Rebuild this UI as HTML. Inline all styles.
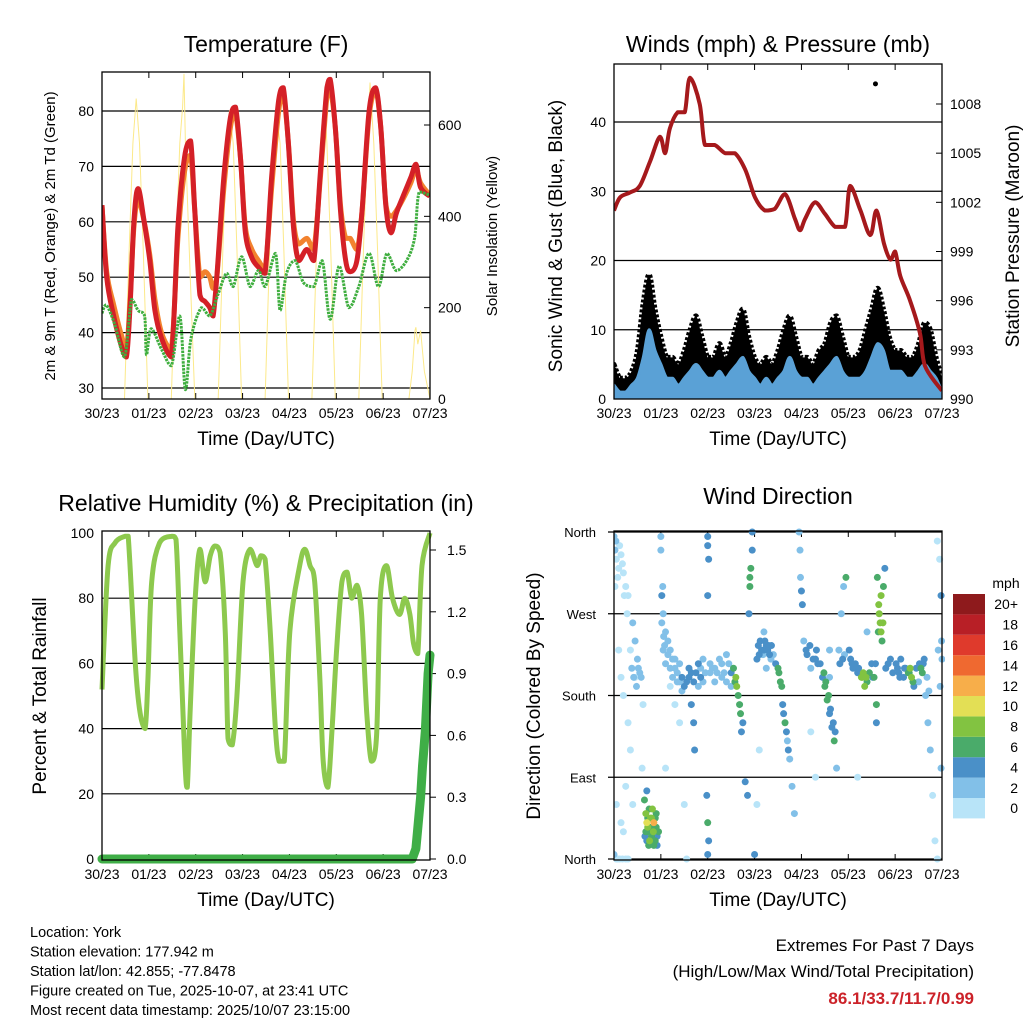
<!DOCTYPE html>
<html><head><meta charset="utf-8"><style>
html,body{margin:0;padding:0;background:#fff;}
svg{display:block;font-family:"Liberation Sans",sans-serif;}
</style></head><body>
<svg id="c" width="1024" height="1024" viewBox="0 0 1024 1024"></svg>
<script>
// ---------- DATA ----------
const dayLabels = ["30/23","01/23","02/23","03/23","04/23","05/23","06/23","07/23"];
const tempT = [0,0.1,0.25,0.4,0.52,0.6,0.68,0.77,0.9,1.02,1.13,1.27,1.48,1.62,1.76,1.89,1.98,2.09,2.2,2.3,2.37,2.45,2.6,2.74,2.85,2.96,3.06,3.2,3.34,3.48,3.62,3.77,3.87,3.98,4.09,4.2,4.37,4.52,4.66,4.8,4.87,4.98,5.09,5.2,5.3,5.44,5.55,5.7,5.84,5.95,6.06,6.17,6.28,6.42,6.59,6.7,6.8,7.0];
const temp2m = [63,50,43,38,35.6,45,60,66,60,53,44,39,35.6,59,71.6,74.6,62,46.8,45.6,44.5,43,50,68,78.8,80.7,71,58,53.5,51.8,50.7,68,82,84.2,73.8,58.8,53,55,53,69,84.2,85.7,77,62,53,51,53,62,80,84.2,77,62.6,58,61.5,64.5,68,70.4,66.2,64.6];
const temp9m = [63,51,45,40,37,46,59,64,60,54,46,40,37,57,69,72,62,50,51,50,48,50,66,77,79.5,71,59,55,53,51.5,66,80,83,74,60,56,57,55,68,82.5,84,77,63,57,57,55,62,79,83.5,77,63,61,62,64,67,69.5,67,64.8];
const tdT = [0,0.09,0.27,0.48,0.63,0.77,0.91,0.95,1.05,1.27,1.48,1.66,1.78,1.9,2.12,2.3,2.48,2.66,2.8,2.98,3.16,3.34,3.48,3.7,3.8,3.94,4.12,4.3,4.52,4.7,4.87,5.06,5.27,5.48,5.7,5.9,6.08,6.28,6.5,6.67,6.77,7.0];
const tdVals = [43.5,45,41.5,35.6,46,44,43,36,40.7,37,34,43,29.7,39,44.5,43,47,50.7,48.3,53.7,48.3,51.2,48.3,54.3,44,50.7,53,49,48.3,53,42.4,52,44.5,48.3,54.3,48.3,54.3,51.2,53,57,65.4,64.8];
const solarT = [0,0.48,0.58,0.66,0.73,0.8,0.88,0.98,1.48,1.58,1.66,1.72,1.75,1.78,1.86,1.98,2.48,2.58,2.66,2.72,2.8,2.88,2.98,3.48,3.58,3.66,3.72,3.8,3.88,3.98,4.48,4.58,4.66,4.74,4.8,4.88,4.98,5.48,5.58,5.66,5.72,5.8,5.88,5.98,6.55,6.62,6.68,6.7,6.74,6.8,6.88,7.0];
const solarV = [0,0,330,560,658,560,330,0,0,330,560,640,712,560,330,0,0,330,560,632,560,330,0,0,330,560,628,560,330,0,0,330,560,659,560,330,0,0,330,560,693,560,330,0,0,60,150,157,120,150,60,0];
const windT = [0,0.125,0.25,0.375,0.5,0.625,0.75,0.875,1,1.125,1.25,1.375,1.5,1.625,1.75,1.875,2,2.125,2.25,2.375,2.5,2.625,2.75,2.875,3,3.125,3.25,3.375,3.5,3.625,3.75,3.875,4,4.125,4.25,4.375,4.5,4.625,4.75,4.875,5,5.125,5.25,5.375,5.5,5.625,5.75,5.875,6,6.125,6.25,6.375,6.5,6.625,6.75,6.875,7];
const windSpd = [2,1,1,2,3,6,10,7,5,3,3,2,3,4,5,4,3,3,4,3,4,5,6,4,3,2,3,2,3,4,6,4,3,3,2,3,4,5,6,4,3,3,3,4,6,8,7,4,4,4,3,3,4,5,4,3,1];
const windGust = [5,3,3,4,7,14,18,13,9,6,6,5,7,10,12,9,6,6,8,6,8,11,13,9,6,5,6,5,7,10,12,9,6,6,5,7,8,11,12,9,6,6,7,10,13,16,13,9,7,7,6,6,8,11,10,6,3];
const presT = [0,0.13,0.34,0.55,0.77,0.98,1.09,1.19,1.36,1.51,1.62,1.83,1.94,2.15,2.37,2.58,2.8,3.01,3.22,3.43,3.65,3.86,3.97,4.08,4.29,4.5,4.72,4.93,5.04,5.26,5.47,5.6,5.76,5.9,6.0,6.11,6.32,6.53,6.64,7.0];
const presV = [1001.5,1002.3,1002.6,1003,1004.5,1006,1005,1006.5,1007.5,1007.5,1009.6,1008,1005.5,1005.5,1005,1005,1004,1002.3,1001.5,1001.6,1002.5,1001,1000.3,1001,1002,1001.3,1000.5,1000.5,1003,1001.5,1000,1001.5,999.5,998.5,999,997.5,996,994,992,990.5];
const gustOutT = [5.58];
const gustOutV = [45.5];
const rhT = [0,0.13,0.28,0.49,0.56,0.71,0.81,0.92,0.98,1.06,1.23,1.49,1.58,1.66,1.77,1.82,1.88,1.99,2.09,2.2,2.31,2.41,2.52,2.63,2.69,2.78,2.88,3.01,3.16,3.31,3.39,3.48,3.59,3.7,3.78,3.89,4.01,4.22,4.33,4.44,4.54,4.65,4.72,4.82,4.91,5.01,5.12,5.23,5.33,5.44,5.54,5.65,5.75,5.86,5.94,6.07,6.2,6.35,6.46,6.57,6.65,6.74,6.83,7.0];
const rhVals = [52,90,97,99,99,60,45,40,55,85,97,99,98,70,30,22,45,80,95,85,93,96,94,70,37,35,50,85,95,90,93,92,70,40,30,30,70,90,95,90,85,55,30,22,40,65,85,88,80,84,75,45,30,38,80,90,80,75,80,75,66,63,90,100];
const rainT = [0,6.62,6.7,6.74,6.8,6.84,6.9,6.96,7.0];
const rainV = [0,0,0.05,0.15,0.3,0.45,0.62,0.9,0.99];
const dirT = [0,0.02,0.05,0.1,0.15,0.2,0.25,0.3,0.4,0.45,0.5,0.55,0.1,0.15,0.3,0.35,0.05,0.2,0.4,0,0.05,0.3,0.45,0.6,
0.65,0.68,0.7,0.72,0.75,0.78,0.8,0.82,0.85,0.88,0.9,0.92,0.95,0.7,0.75,0.66,0.8,0.85,0.9,0.7,
1.0,1.0,1.02,1.05,1.1,1.15,1.2,1.25,1.3,1.35,1.4,1.45,1.5,1.6,1.65,1.7,1.72,1.2,1.3,1.4,1.1,1.5,1.55,1.65,1.8,1.85,1.9,1.95,
2.0,2.0,2.02,2.0,1.98,2.0,2.02,2.0,2.55,2.6,2.65,2.7,2.72,2.1,2.2,2.3,2.4,2.5,2.8,2.85,2.9,2.92,2.95,2.9,2.88,2.95,3.0,
3.05,3.1,3.2,3.3,3.4,3.5,3.55,3.6,3.65,3.7,3.75,3.8,3.85,3.95,3.97,3.98,4.0,4.02,3.1,3.2,3.05,
4.1,4.2,4.3,4.35,4.45,4.5,4.55,4.6,4.65,4.7,4.75,4.8,4.85,4.9,4.95,4.2,4.3,4.6,
5.05,5.1,5.2,5.3,5.35,5.4,5.5,5.55,5.6,5.62,5.65,5.68,5.7,5.72,5.75,5.78,5.6,5.2,5.4,
6.05,6.1,6.2,6.3,6.35,6.4,6.5,6.55,6.6,6.65,6.7,6.75,6.8,6.85,6.9,6.95,6.98,7.0,6.98,6.9,
1.05,1.1,1.15,1.2,1.25,1.3,1.35,1.4,1.45,1.55,1.6,1.7,1.75,1.8,1.85,1.9,1.02,1.04,1.06,1.08,
2.05,2.15,2.25,2.35,2.45,2.5,2.58,2.62,2.68,2.75,2.4,2.3,2.15,2.05,
3.08,3.12,3.15,3.18,3.22,3.25,3.28,3.32,3.36,3.45,3.52,3.58,3.62,3.68,3.72,3.35,3.25,
4.05,4.12,4.18,4.25,4.32,4.4,4.48,4.52,4.58,4.62,4.68,4.72,4.82,4.88,4.92,4.6,
5.02,5.08,5.15,5.22,5.28,5.32,5.38,5.45,5.52,5.58,5.66,5.7,5.74,5.64,5.8,5.85,5.9,5.95,
6.02,6.08,6.12,6.18,6.22,6.28,6.32,6.38,6.45,6.52,6.58,6.62,6.68,6.72,6.92,6.96,6.99,
0.02,0.04,0.08,0.12,0.18,0.22,0.28,0.35,0.38,0.42,0.48,0.52,0.58,0.62,0.2,0.25,0.15,0.08,0.12,0.18,0.25,0.68,0.72,0.76,0.8,0.84,0.88,0.74,0.92];
const dirDeg = [355,340,330,320,335,315,300,290,260,240,220,205,230,200,150,120,60,30,60,5,0,0,200,100,
65,50,40,35,30,45,25,55,40,20,35,15,30,20,55,25,45,15,50,75,
355,340,290,270,250,240,230,220,210,205,195,200,190,200,170,150,120,190,170,150,100,60,0,205,190,210,220,205,
355,345,330,290,70,40,20,5,210,200,180,160,140,210,205,200,195,190,85,70,310,320,340,300,270,360,5,
220,225,230,235,225,210,195,170,150,130,110,80,50,360,340,310,295,280,120,250,60,
230,210,220,215,200,190,175,160,145,130,100,230,270,300,310,140,90,230,
220,210,205,200,190,195,215,200,170,310,280,260,250,240,300,320,150,90,250,
210,200,210,205,200,190,195,210,215,180,150,120,70,20,350,330,290,220,100,0,
230,215,225,210,200,220,195,215,185,195,210,195,205,215,200,195,260,300,245,235,
215,210,220,205,215,205,195,190,170,150,225,215,195,205,
235,240,230,225,240,235,230,225,235,215,205,190,160,140,120,220,210,
240,225,235,220,230,215,205,195,180,165,150,140,215,220,225,200,
230,215,215,210,200,205,200,205,200,215,270,290,260,250,210,215,220,205,
215,205,220,200,210,205,210,195,210,215,205,220,200,185,230,190,240,
300,350,310,345,325,290,270,230,210,200,190,210,200,170,180,80,40,0,0,0,0,30,45,20,35,30,45,15,25];
const dirSpd = [2,3,1,1,0,1,0,1,2,2,2,3,0,0,0,0,0,0,0,3,0,0,1,0,
6,8,10,9,7,8,6,8,12,6,7,5,6,5,7,4,9,6,7,5,
2,2,4,3,3,2,2,3,2,3,3,4,4,4,5,4,4,1,1,1,0,0,0,4,3,3,3,2,
4,4,4,4,5,6,4,4,7,8,6,6,5,2,3,2,2,2,4,4,7,6,5,6,4,4,4,
4,4,4,4,3,6,7,4,6,3,3,2,2,2,2,3,4,4,1,2,1,
4,3,4,4,5,6,6,5,4,6,2,3,3,2,7,1,1,2,
4,4,5,8,8,7,5,6,6,7,9,9,8,6,6,5,4,1,2,
4,4,5,7,8,4,3,6,4,3,2,3,1,1,0,1,4,3,2,0,
2,2,3,2,2,3,2,2,3,4,4,4,5,4,4,3,3,3,2,2,
2,2,3,2,3,4,7,8,6,5,2,2,2,3,
4,4,4,3,4,4,4,4,4,4,7,7,4,4,4,2,2,
3,4,4,4,4,4,6,6,6,5,4,4,4,4,2,2,
4,4,4,4,8,8,9,7,4,4,9,8,8,7,4,4,4,4,
4,4,4,4,4,7,8,7,4,4,6,4,2,2,2,2,3,
1,2,1,1,1,0,1,1,3,3,3,3,2,1,0,0,0,0,0,0,0,6,7,8,7,9,6,6,5];
const cbLabels = ["0","2","4","6","8","10","12","14","16","18","20+"];
const cbColors = ["#b8e4f8","#82c0e8","#4a90c8","#4aab6a","#82c341","#e3df55","#f7ae4a","#ef6930","#df3a2c","#b81f26","#8e1a1c"];

// ---------- HELPERS ----------
const svg = document.getElementById('c');
const NS = 'http://www.w3.org/2000/svg';
function mk(tag, attrs, parent){const e=document.createElementNS(NS,tag);for(const k in attrs)e.setAttribute(k,attrs[k]);(parent||svg).appendChild(e);return e;}
function txt(s,x,y,size,anchor,extra,parent){const e=mk('text',Object.assign({x:x,y:y,'font-size':size,'text-anchor':anchor||'middle',fill:'#000'},extra||{}),parent);e.textContent=s;return e;}
function scale(d0,d1,r0,r1){return v=>r0+(v-d0)/(d1-d0)*(r1-r0);}
function path(xs,ys,sx,sy){let d='';for(let i=0;i<xs.length;i++)d+=(i?'L':'M')+sx(xs[i]).toFixed(1)+','+sy(ys[i]).toFixed(1);return d;}
function clampv(v,a,b){const lo=Math.min(a,b),hi=Math.max(a,b);return Math.max(lo,Math.min(hi,v));}
function smooth(xs,ys,sx,sy){
  const P=xs.map((x,i)=>[sx(x),sy(ys[i])]);
  let d='M'+P[0][0].toFixed(1)+','+P[0][1].toFixed(1);
  for(let i=0;i<P.length-1;i++){
    const p0=P[Math.max(0,i-1)],p1=P[i],p2=P[i+1],p3=P[Math.min(P.length-1,i+2)];
    const c1=[p1[0]+(p2[0]-p0[0])/6,clampv(p1[1]+(p2[1]-p0[1])/6,p1[1],p2[1])];
    const c2=[p2[0]-(p3[0]-p1[0])/6,clampv(p2[1]-(p3[1]-p1[1])/6,p1[1],p2[1])];
    d+='C'+c1[0].toFixed(1)+','+c1[1].toFixed(1)+' '+c2[0].toFixed(1)+','+c2[1].toFixed(1)+' '+p2[0].toFixed(1)+','+p2[1].toFixed(1);
  }
  return d;
}
function frame(x0,x1,y0,y1,g){
  mk('rect',{x:x0,y:y0,width:x1-x0,height:y1-y0,fill:'none',stroke:'#000','stroke-width':1.3},g);
}
function xAxis(x0,x1,y0,y1,g){
  const sx=scale(0,7,x0,x1);
  dayLabels.forEach((l,i)=>{
    const x=sx(i);
    mk('line',{x1:x,x2:x,y1:y1,y2:y1-6,stroke:'#000'},g);
    mk('line',{x1:x,x2:x,y1:y0,y2:y0+6,stroke:'#000'},g);
    const t=txt(l,x,y1+19,14,'middle',{},g);
    
    
  });
  const t=txt('Time (Day/UTC)',(x0+x1)/2,y1+46,19,'middle',{},g);
  
  
  return sx;
}

// ---------- PANEL 1: TEMPERATURE ----------
(function(){
  const g=mk('g',{});
  
  
  const X0=102,X1=430,Y0=72,Y1=399;
  const sy=scale(30,80,388,111), sr=scale(0,600,399,125);
  [30,40,50,60,70,80].forEach(v=>{
    mk('line',{x1:X0,x2:X1,y1:sy(v),y2:sy(v),stroke:'#000','stroke-width':1.2},g);
    const t=txt(String(v),X0-8,sy(v)+5,14,'end',{},g);
    
    
  });
  [0,200,400,600].forEach(v=>{
    mk('line',{x1:X1,x2:X1-6,y1:sr(v),y2:sr(v),stroke:'#000'},g);
    const t=txt(String(v),X1+8,sr(v)+5,14,'start',{},g);
    
    
  });
  const sx=xAxis(X0,X1,Y0,Y1,g);
  const clip=mk('clipPath',{id:'cp1'},g);mk('rect',{x:X0,y:Y0,width:X1-X0,height:Y1-Y0},clip);
  const pg=mk('g',{'clip-path':'url(#cp1)'},g);
  const s=mk('path',{d:path(solarT,solarV,sx,sr),fill:'none',stroke:'#fce98a','stroke-width':1},pg);
  
  
  const o=mk('path',{d:smooth(tempT,temp9m,sx,sy),fill:'none',stroke:'#f2822e','stroke-width':5,'stroke-linejoin':'round'},pg);
  
  
  const r=mk('path',{d:smooth(tempT,temp2m,sx,sy),fill:'none',stroke:'#d42027','stroke-width':5,'stroke-linejoin':'round'},pg);
  
  
  const d=mk('path',{d:smooth(tdT,tdVals,sx,sy),fill:'none',stroke:'#3fae3f','stroke-width':3,'stroke-dasharray':'2.5 1','stroke-linejoin':'round'},pg);
  
  
  frame(X0,X1,Y0,Y1,g);
  const t1=txt('Temperature (F)',266,52,23,'middle',{},g);
  
  
  const t2=txt('2m & 9m T (Red, Orange) & 2m Td (Green)',0,0,15,'middle',{transform:'translate(55,236) rotate(-90)'},g);
  
  
  const t3=txt('Solar Insolation (Yellow)',0,0,15,'middle',{transform:'translate(497,236) rotate(-90)'},g);
  
  
})();

// ---------- PANEL 2: WINDS ----------
(function(){
  const g=mk('g',{});
  
  
  const X0=614,X1=942,Y0=64,Y1=399;
  const sy=scale(0,40,399,122), sp=scale(990,1008,399,104);
  [0,10,20,30,40].forEach(v=>{
    if(v>0) mk('line',{x1:X0,x2:X1,y1:sy(v),y2:sy(v),stroke:'#000','stroke-width':1.2},g);
    const t=txt(String(v),X0-8,sy(v)+5,14,'end',{},g);
    
    
  });
  [990,993,996,999,1002,1005,1008].forEach(v=>{
    mk('line',{x1:X1,x2:X1-6,y1:sp(v),y2:sp(v),stroke:'#000'},g);
    const t=txt(String(v),X1+8,sp(v)+5,14,'start',{},g);
    
    
  });
  const sx=xAxis(X0,X1,Y0,Y1,g);
  const clip=mk('clipPath',{id:'cp2'},g);mk('rect',{x:X0,y:Y0,width:X1-X0,height:Y1-Y0},clip);
  const pg=mk('g',{'clip-path':'url(#cp2)'},g);
  let dg=smooth(windT,windGust,sx,sy)+'L'+sx(7)+','+sy(0)+'L'+sx(0)+','+sy(0)+'Z';
  const ga=mk('path',{d:dg,fill:'#000',stroke:'#000','stroke-width':5,'stroke-dasharray':'3 2','stroke-linejoin':'round'},pg);
  
  
  let db=smooth(windT,windSpd,sx,sy)+'L'+sx(7)+','+sy(0)+'L'+sx(0)+','+sy(0)+'Z';
  const ba=mk('path',{d:db,fill:'#5aa1d6',stroke:'#5aa1d6','stroke-width':3,'stroke-linejoin':'round'},pg);
  
  
  gustOutT.forEach((t,i)=>{
    const c=mk('circle',{cx:sx(t),cy:sy(gustOutV[i]),r:2.5,fill:'#000'},pg);
    
    
  });
  const p=mk('path',{d:smooth(presT,presV,sx,sp),fill:'none',stroke:'#a5191c','stroke-width':4,'stroke-linejoin':'round'},pg);
  
  
  frame(X0,X1,Y0,Y1,g);
  const t1=txt('Winds (mph) & Pressure (mb)',778,52,23,'middle',{},g);
  
  
  const t2=txt('Sonic Wind & Gust (Blue, Black)',0,0,19,'middle',{transform:'translate(562,236) rotate(-90)'},g);
  
  
  const t3=txt('Station Pressure (Maroon)',0,0,19,'middle',{transform:'translate(1019,236) rotate(-90)'},g);
  
  
})();

// ---------- PANEL 3: HUMIDITY ----------
(function(){
  const g=mk('g',{});
  
  
  const X0=102,X1=430,Y0=531,Y1=860;
  const sy=scale(0,100,859,533), sr=scale(0,1.5,859,550);
  [0,20,40,60,80,100].forEach(v=>{
    if(v>0&&v<100) mk('line',{x1:X0,x2:X1,y1:sy(v),y2:sy(v),stroke:'#000','stroke-width':1.2},g);
    const t=txt(String(v),X0-8,sy(v)+5,14,'end',{},g);
    
    
  });
  ["0.0","0.3","0.6","0.9","1.2","1.5"].forEach(v=>{
    mk('line',{x1:X1,x2:X1+6,y1:sr(+v),y2:sr(+v),stroke:'#000'},g);
    const t=txt(v,X1+17,sr(+v)+5,14,'start',{},g);
    
    
  });
  const sx=xAxis(X0,X1,Y0,Y1,g);
  const h=mk('path',{d:smooth(rhT,rhVals,sx,sy),fill:'none',stroke:'#8dc94e','stroke-width':5,'stroke-linejoin':'round'},g);
  
  
  const r=mk('path',{d:path(rainT,rainV,sx,sr),fill:'none',stroke:'#3fae47','stroke-width':9,'stroke-linejoin':'round','stroke-linecap':'round'},g);
  
  
  frame(X0,X1,Y0,Y1,g);
  const t1=txt('Relative Humidity (%) & Precipitation (in)',266,511,23,'middle',{},g);
  
  
  const t2=txt('Percent & Total Rainfall',0,0,19,'middle',{transform:'translate(46,696) rotate(-90)'},g);
  
  
})();

// ---------- PANEL 4: WIND DIRECTION ----------
(function(){
  const g=mk('g',{});
  
  
  const X0=614,X1=942,Y0=531,Y1=860;
  const sy=scale(0,360,859,532);
  const names=["North","East","South","West","North"];
  [0,90,180,270,360].forEach((v,i)=>{
    mk('line',{x1:X0-6,x2:X1,y1:sy(v),y2:sy(v),stroke:'#000','stroke-width':1.2},g);
    const t=txt(names[i],X0-18,sy(v)+5,13,'end',{},g);
    
    
  });
  const sx=xAxis(X0,X1,Y0,Y1,g);
  const clip=mk('clipPath',{id:'cp4'},g);mk('rect',{x:X0,y:Y0-3,width:X1-X0+3,height:Y1-Y0+6},clip);
  const pg=mk('g',{'clip-path':'url(#cp4)'},g);
  const order=dirT.map((t,i)=>i).sort((a,b)=>dirSpd[a]-dirSpd[b]);
  order.forEach(i=>{
    const ci=Math.min(10,Math.floor(dirSpd[i]/2));
    const c=mk('circle',{cx:sx(dirT[i]),cy:sy(dirDeg[i]),r:3.5,fill:cbColors[ci]},pg);
    
    
  });
  frame(X0,X1,Y0,Y1,g);
  const t1=txt('Wind Direction',778,504,23,'middle',{},g);
  
  
  const t2=txt('Direction (Colored By Speed)',0,0,19,'middle',{transform:'translate(540,696) rotate(-90)'},g);
  
  
  const cb=mk('g',{},g);
  
  
  const bh=20.4, top=594;
  cbColors.forEach((c,i)=>{
    const y=top+(10-i)*bh;
    const r=mk('rect',{x:953,y:y,width:32,height:bh,fill:c},cb);
    
    
    const t=txt(cbLabels[i],1018,y+bh/2+5,14,'end',{},cb);
    
    
  });
  const u=txt('mph',1006,588,14,'middle',{},cb);
  
  
})();

// ---------- FOOTER ----------
(function(){
  const lines=["Location: York","Station elevation: 177.942 m","Station lat/lon: 42.855; -77.8478","Figure created on Tue, 2025-10-07, at 23:41 UTC","Most recent data timestamp: 2025/10/07 23:15:00"];
  lines.forEach((s,i)=>{
    const t=txt(s,30,937+i*19.5,14.5,'start');
    
    
  });
  const a=txt('Extremes For Past 7 Days',974,951,17,'end');
  
  
  const b=txt('(High/Low/Max Wind/Total Precipitation)',974,977,17,'end');
  
  
  const c=txt('86.1/33.7/11.7/0.99',974,1004,17,'end',{fill:'#cc2229','font-weight':'bold'});
  
  
})();
</script>
</body></html>
